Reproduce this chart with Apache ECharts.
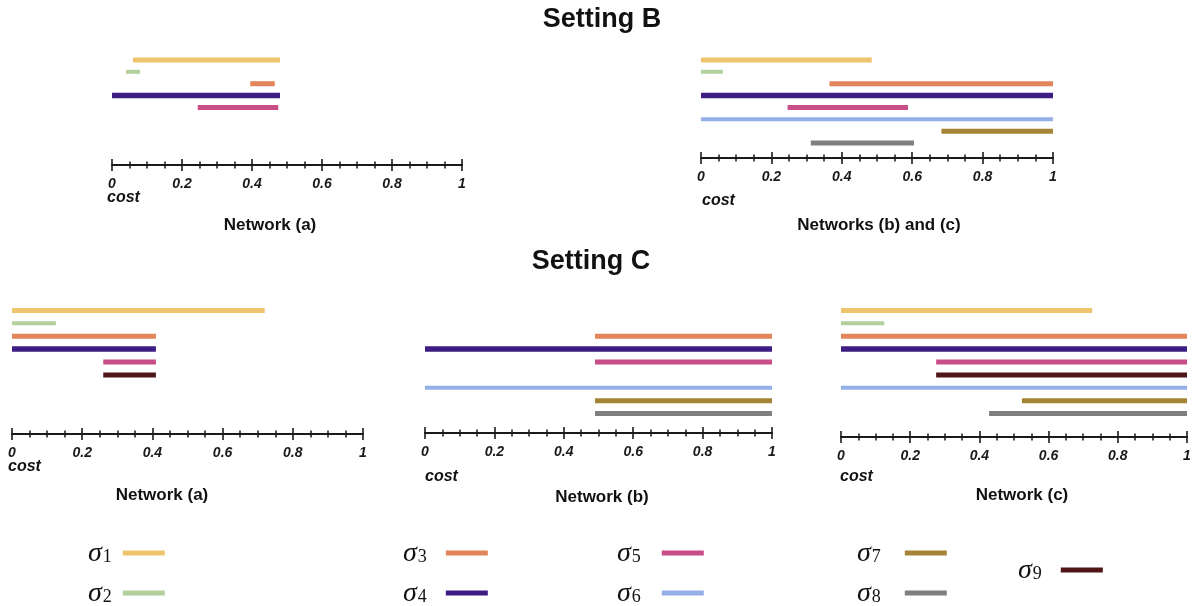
<!DOCTYPE html>
<html><head><meta charset="utf-8">
<script src="https://cdn.jsdelivr.net/npm/echarts@6/dist/echarts.min.js"></script>
<style>html,body{margin:0;padding:0;background:#fff}#c{width:1198px;height:606px}</style>
</head><body><div id="c"></div>
<script>
// ---------- data ----------
const sigmaNames = ['σ1','σ2','σ3','σ4','σ5','σ6','σ7','σ8','σ9'];
const rowsB = ['σ1','σ2','σ3','σ4','σ5','σ6','σ7','σ8'];
const rowsC = ['σ1','σ2','σ3','σ4','σ5','σ9','σ6','σ7','σ8'];
const costTicks = ['0','0.2','0.4','0.6','0.8','1'];
// cost ranges [from, to] for σ1..σ9 (null = not present)
const settingB_netA  = [[0.06,0.48],[0.04,0.08],[0.395,0.465],[0,0.48],[0.245,0.475],null,null,null,null];
const settingB_netBC = [[0,0.485],[0,0.062],[0.365,1],[0,1],[0.246,0.588],[0,1],[0.683,1],[0.312,0.605],null];
const settingC_netA  = [[0,0.72],[0,0.125],[0,0.41],[0,0.41],[0.26,0.41],null,null,null,[0.26,0.41]];
const settingC_netB  = [null,null,[0.49,1],[0,1],[0.49,1],[0,1],[0.49,1],[0.49,1],null];
const settingC_netC  = [[0,0.726],[0,0.125],[0,1],[0,1],[0.275,1],[0,1],[0.523,1],[0.428,1],[0.275,1]];

// ---------- style ----------
const sigmaColors = ['#efc46e','#b3d09c','#e2855a','#3d1d84','#c94d86','#95b0e8','#a68436','#7f7f7f','#4e1616'];
const sigmaWidths = [5,4,5,5.5,5,4,5,5,5];
const ink = '#1a1a1a';

const panels = [
  {data: settingB_netA,  rows: rowsB, left:112, width:350, top:54,  height:95,  offset:16, name:'Network (a)',         nx:270,  ny:225, cx:107, cy:198},
  {data: settingB_netBC, rows: rowsB, left:701, width:352, top:54,  height:95,  offset:9,  name:'Networks (b) and (c)', nx:879,  ny:225, cx:702, cy:201},
  {data: settingC_netA,  rows: rowsC, left:12,  width:351, top:304, height:116, offset:14, name:'Network (a)',         nx:162,  ny:495, cx:8,   cy:467},
  {data: settingC_netB,  rows: rowsC, left:425, width:347, top:304, height:116, offset:13, name:'Network (b)',         nx:602,  ny:497, cx:425, cy:477},
  {data: settingC_netC,  rows: rowsC, left:841, width:346, top:304, height:116, offset:17, name:'Network (c)',         nx:1022, ny:495, cx:840, cy:477}
];

const grid = [], xAxis = [], yAxis = [], series = [];
const titles = [
  {text:'Setting B', left:602, top:20, textAlign:'center', textVerticalAlign:'middle', padding:0,
   textStyle:{fontSize:27, fontWeight:'bold', fontFamily:'Liberation Sans', color:'#111'}},
  {text:'Setting C', left:591, top:262, textAlign:'center', textVerticalAlign:'middle', padding:0,
   textStyle:{fontSize:27, fontWeight:'bold', fontFamily:'Liberation Sans', color:'#111'}}
];

function axisBase(i, p) {
  return {gridIndex:i, type:'value', min:0, max:1, interval:0.2, position:'bottom', offset:p.offset,
    splitLine:{show:false}, minorSplitLine:{show:false}};
}

function seg(w) {
  return function (params, api) {
    const a = api.coord([api.value(0), api.value(2)]);
    const b = api.coord([api.value(1), api.value(2)]);
    return {type:'rect', shape:{x:a[0], y:a[1]-w/2, width:b[0]-a[0], height:w},
            style:{fill: api.visual('color')}};
  };
}

panels.forEach((p, i) => {
  grid.push({left:p.left, top:p.top, width:p.width, height:p.height});
  const main = axisBase(i, p);
  Object.assign(main, {
    axisLine:{show:true, lineStyle:{color:ink, width:2}},
    axisTick:{show:true, inside:false, length:6, lineStyle:{color:ink, width:1.6}},
    minorTick:{show:true, splitNumber:4, length:3.5, lineStyle:{color:ink, width:1.5}},
    axisLabel:{show:true, margin:12, fontSize:14, fontWeight:'bold', fontStyle:'italic',
      fontFamily:'Liberation Sans', color:ink,
      formatter: v => costTicks[Math.round(v/0.2)]}
  });
  const mirror = axisBase(i, p);
  Object.assign(mirror, {
    axisLine:{show:false},
    axisTick:{show:true, inside:true, length:6, lineStyle:{color:ink, width:1.6}},
    minorTick:{show:true, splitNumber:4, length:3.5, lineStyle:{color:ink, width:1.5}},
    axisLabel:{show:false}
  });
  xAxis.push(main, mirror);
  yAxis.push({gridIndex:i, type:'category', data:p.rows, inverse:true, show:false, boundaryGap:true});
  p.data.forEach((r, k) => {
    if (!r) return;
    series.push({
      type:'custom', name:sigmaNames[k], xAxisIndex:2*i, yAxisIndex:i,
      itemStyle:{color:sigmaColors[k]}, encode:{x:[0,1], y:2}, silent:true,
      data:[[r[0], r[1], p.rows.indexOf(sigmaNames[k])]],
      renderItem: seg(sigmaWidths[k])
    });
  });
  titles.push({text:p.name, left:p.nx, top:p.ny, textAlign:'center', textVerticalAlign:'middle', padding:0,
    textStyle:{fontSize:17, fontWeight:'bold', fontFamily:'Liberation Sans', color:'#111'}});
  titles.push({text:'cost', left:p.cx, top:p.cy, textAlign:'left', textVerticalAlign:'middle', padding:0,
    textStyle:{fontSize:16, fontWeight:'bold', fontStyle:'italic', fontFamily:'Liberation Sans', color:'#111'}});
});

const legendGroups = [['σ1','σ2'],['σ3','σ4'],['σ5','σ6'],['σ7','σ8'],['σ9']];
const legendPos = [[88,540,6],[403,540,14],[617,540,16],[857,540,19],[1018,557,14]];
const legend = legendGroups.map((g, j) => ({
  data:g, orient:'vertical', align:'right', left:legendPos[j][0], top:legendPos[j][1],
  height:120, width:200,
  icon:'rect', itemWidth:42, itemHeight:5, itemGap:12, padding:0, selectedMode:false,
  formatter: n => '{s|σ}{n|' + n.slice(1) + '}',
  textStyle:{padding:[0, legendPos[j][2], 0, 0], rich:{
    s:{fontSize:28, lineHeight:26, verticalAlign:'top', fontStyle:'italic', fontFamily:'Liberation Serif', color:'#111'},
    n:{fontSize:18, lineHeight:15, verticalAlign:'bottom', fontFamily:'Liberation Serif', color:'#111', padding:[0,0,0,1]}
  }}
}));

const chart = echarts.init(document.getElementById('c'));
chart.setOption({backgroundColor:'#fff', animation:false, title:titles, grid, xAxis, yAxis, series, legend});
</script></body></html>
